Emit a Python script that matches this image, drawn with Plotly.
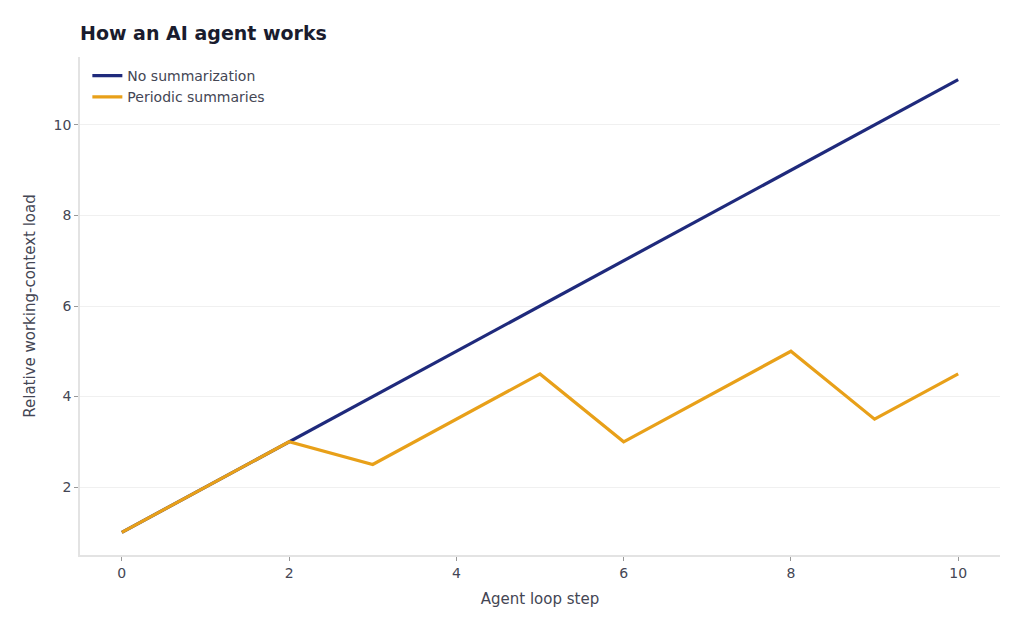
import plotly.graph_objects as go

steps = [0, 1, 2, 3, 4, 5, 6, 7, 8, 9, 10]
no_summary = [1, 2, 3, 4, 5, 6, 7, 8, 9, 10, 11]
periodic = [1, 2, 3, 2.5, 3.5, 4.5, 3, 4, 5, 3.5, 4.5]

fig = go.Figure()
fig.add_trace(go.Scatter(x=steps, y=no_summary, mode="lines", name="No summarization",
                         line=dict(color="#1f2a7c", width=3.2)))
fig.add_trace(go.Scatter(x=steps, y=periodic, mode="lines", name="Periodic summaries",
                         line=dict(color="#e8a019", width=3.2)))

font = "DejaVu Sans"
fig.update_layout(
    width=1024, height=631,
    margin=dict(l=80, r=24, t=57, b=76),
    paper_bgcolor="white", plot_bgcolor="white",
    font=dict(family=font, size=14, color="#444654"),
    title=dict(text="<b>How an AI agent works</b>", x=80/1024, xanchor="left",
               y=1 - 33/631, yanchor="middle",
               font=dict(family=font, size=19, color="#1a1c2e")),
    legend=dict(x=0.008, y=0.994, xanchor="left", yanchor="top", tracegroupgap=0,
                bgcolor="rgba(255,255,255,0)", font=dict(size=14, color="#444654")),
    showlegend=True,
)
fig.update_xaxes(range=[-0.5, 10.5], tickvals=[0, 2, 4, 6, 8, 10], showgrid=False,
                 showline=True, linecolor="#e3e3e3", linewidth=1.5, zeroline=False,
                 ticks="outside", ticklen=4, tickcolor="#999999",
                 title=dict(text="Agent loop step", font=dict(size=15), standoff=14),
                 tickfont=dict(size=14))
fig.update_yaxes(range=[0.5, 11.5], tickvals=[2, 4, 6, 8, 10], showgrid=True,
                 gridcolor="#f0f0f0", gridwidth=1,
                 showline=True, linecolor="#e3e3e3", linewidth=1.5, zeroline=False,
                 ticks="outside", ticklen=4, tickcolor="#999999",
                 title=dict(text="Relative working-context load", font=dict(size=15), standoff=14),
                 tickfont=dict(size=14))

fig.write_html("out.html")
